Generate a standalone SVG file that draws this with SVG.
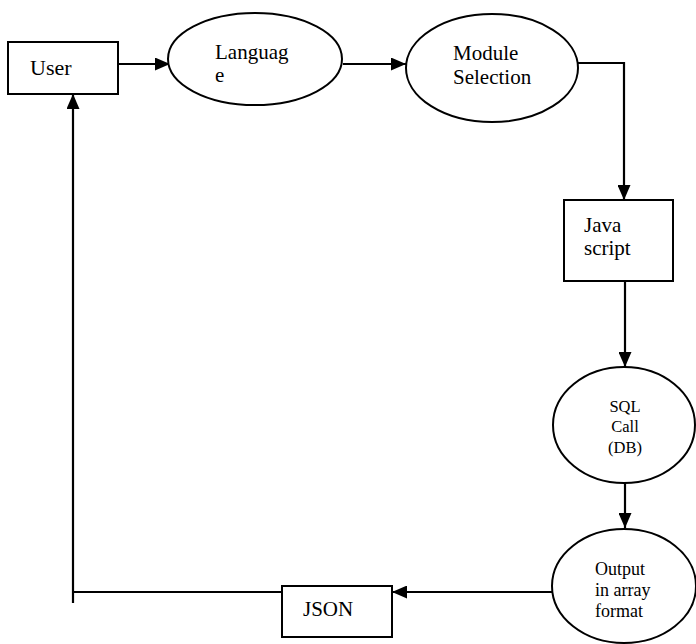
<svg xmlns="http://www.w3.org/2000/svg" width="696" height="644" viewBox="0 0 696 644">
<style>
.shape{fill:#fff;stroke:#000;stroke-width:2}
.ln{fill:none;stroke:#000;stroke-width:2.2}
</style>
<defs>
<marker id="ah" markerWidth="15" markerHeight="13" refX="15" refY="6.5" orient="auto" markerUnits="userSpaceOnUse">
<path d="M0,0 L15,6.5 L0,13 Z" fill="#000"/>
</marker>
</defs>
<rect width="696" height="644" fill="#fff"/>
<g id="connectors">
<line class="ln" x1="118" y1="64" x2="170" y2="64" marker-end="url(#ah)"/>
<line class="ln" x1="343" y1="64" x2="406" y2="64" marker-end="url(#ah)"/>
<polyline class="ln" points="578,63 624,63 624,200" marker-end="url(#ah)"/>
<line class="ln" x1="625" y1="281" x2="625" y2="367" marker-end="url(#ah)"/>
<line class="ln" x1="625" y1="483" x2="625" y2="528" marker-end="url(#ah)"/>
<line class="ln" x1="552" y1="592" x2="392" y2="592" marker-end="url(#ah)"/>
<line class="ln" x1="282" y1="592" x2="73" y2="592"/>
<line class="ln" x1="73" y1="603" x2="73" y2="94" marker-end="url(#ah)"/>
</g>
<g font-family="'Liberation Serif', 'DejaVu Serif', serif" fill="#000">
<g id="user">
<rect class="shape" x="8" y="42" width="110" height="52"/>
<text x="30" y="75" font-size="22">User</text>
</g>
<g id="language">
<ellipse class="shape" cx="255" cy="59" rx="87" ry="46"/>
<text x="215" y="59" font-size="21">Languag</text>
<text x="215" y="82" font-size="21">e</text>
</g>
<g id="module">
<ellipse class="shape" cx="492" cy="68" rx="86" ry="54"/>
<text x="453" y="60" font-size="21">Module</text>
<text x="453" y="84" font-size="21">Selection</text>
</g>
<g id="javascript">
<rect class="shape" x="564" y="200" width="109" height="81"/>
<text x="584" y="232" font-size="21">Java</text>
<text x="584" y="255" font-size="21">script</text>
</g>
<g id="sql">
<ellipse class="shape" cx="624" cy="425" rx="71" ry="58"/>
<text x="625" y="412" font-size="16.5" text-anchor="middle">SQL</text>
<text x="625" y="432" font-size="16.5" text-anchor="middle">Call</text>
<text x="625" y="453" font-size="16.5" text-anchor="middle">(DB)</text>
</g>
<g id="output">
<ellipse class="shape" cx="624" cy="586" rx="72" ry="57"/>
<text x="595" y="575" font-size="18">Output</text>
<text x="595" y="596" font-size="18">in array</text>
<text x="595" y="617" font-size="18">format</text>
</g>
<g id="json">
<rect class="shape" x="282" y="586" width="110" height="51"/>
<text x="303" y="616" font-size="21">JSON</text>
</g>
</g>
</svg>
